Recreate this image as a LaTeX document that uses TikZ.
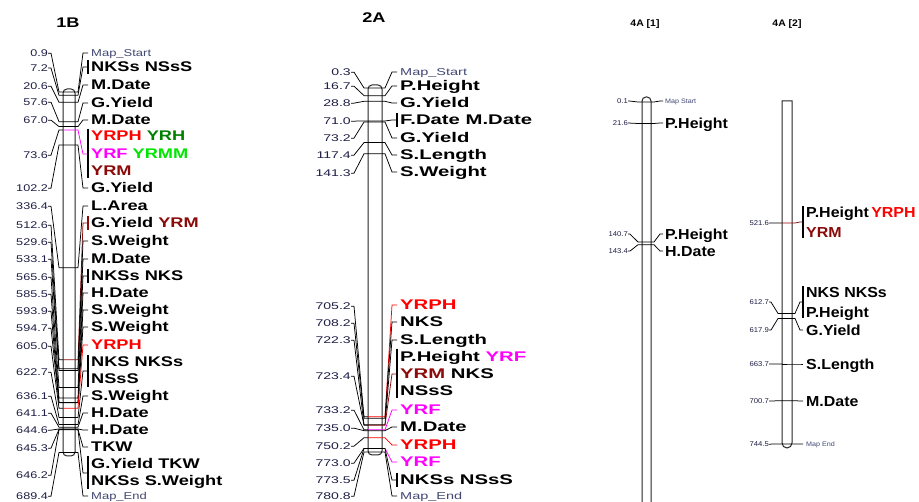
\documentclass[tikz,border=0pt]{standalone}
\usepackage{fontspec}
\setmainfont{Liberation Sans}
\newfontfamily\fA[FakeStretch=1.3]{Liberation Sans}
\newfontfamily\fB[FakeStretch=1.45]{Liberation Sans}
\newfontfamily\fC[FakeStretch=1.1]{Liberation Sans}
\usetikzlibrary{calc}
\definecolor{cyrph}{RGB}{255,0,0}
\definecolor{cyrf}{RGB}{255,0,255}
\definecolor{cyrm}{RGB}{139,10,10}
\definecolor{cyrh}{RGB}{0,128,0}
\definecolor{cyrmm}{RGB}{0,230,0}
\definecolor{numcol}{RGB}{30,30,70}
\definecolor{mapcol}{RGB}{65,72,115}
\newcommand\cR[1]{\textcolor{cyrph}{#1}}
\newcommand\cF[1]{\textcolor{cyrf}{#1}}
\newcommand\cM[1]{\textcolor{cyrm}{#1}}
\newcommand\cH[1]{\textcolor{cyrh}{#1}}
\newcommand\cMM[1]{\textcolor{cyrmm}{#1}}
\tikzset{
  conn/.style={line width=0.75pt},
  bar/.style={draw=black!85, line width=1pt, fill=white},
  brk/.style={line width=1.2pt},
  labA/.style={font=\fA\bfseries\fontsize{14}{14}\selectfont, inner sep=0pt, anchor=base west, yshift=-5pt},
  mapA/.style={font=\fA\fontsize{10}{10}\selectfont, text=mapcol, inner sep=0pt, anchor=base west, yshift=-3.6pt},
  numA/.style={font=\fA\fontsize{9.7}{10}\selectfont, text=numcol, inner sep=0pt, anchor=base east, yshift=-3.5pt},
  labB/.style={font=\fB\bfseries\fontsize{14}{14}\selectfont, inner sep=0pt, anchor=base west, yshift=-5pt},
  mapB/.style={font=\fB\fontsize{10}{10}\selectfont, text=mapcol, inner sep=0pt, anchor=base west, yshift=-3.6pt},
  numB/.style={font=\fB\fontsize{9.7}{10}\selectfont, text=numcol, inner sep=0pt, anchor=base east, yshift=-3.5pt},
  labC/.style={font=\fC\bfseries\fontsize{14.5}{14.5}\selectfont, inner sep=0pt, anchor=base west, yshift=-5.2pt},
  mapC/.style={font=\fC\fontsize{6.5}{6.5}\selectfont, text=mapcol, inner sep=0pt, anchor=base west, yshift=-2.3pt},
  numC/.style={font=\fC\fontsize{7}{7}\selectfont, text=numcol, inner sep=0pt, anchor=base east, yshift=-2.5pt},
  ttl/.style={font=\fA\bfseries\fontsize{14}{14}\selectfont, inner sep=0pt},
  ttlC/.style={font=\fC\bfseries\fontsize{9.5}{9.5}\selectfont, inner sep=0pt},
}
\begin{document}
\begin{tikzpicture}[x=1pt,y=-1pt]
\useasboundingbox[fill=white] (0,0) rectangle (919,502);
% titles
\node[ttl] (t1) at (68,23) {1B};
\node[ttl] (t2) at (374,18) {2A};
\node[ttlC] (t3) at (645,24) {4A [1]};
\node[ttlC] (t4) at (787,24) {4A [2]};

% ================= 1B =================
\draw[bar, rounded corners=4pt] (63,89) rectangle (75,456);
\foreach \cm/\ly [count=\i] in {0.9/53, 7.2/68, 20.6/86, 57.6/102, 67.0/120, 73.6/155, 102.2/188, 336.4/206, 512.6/225, 529.6/242, 533.1/259, 565.6/277, 585.5/294, 593.9/311, 594.7/328, 605.0/346, 622.7/372, 636.1/396, 641.1/413, 644.6/430, 645.3/448, 646.2/475, 689.4/496}{
  \pgfmathsetmacro\by{92+(\cm-0.9)*0.5235}
  \node[numA] (A\i) at (48,\ly) {\cm};
  \coordinate (Ab\i) at (63,\by);
  \draw[conn] (A\i.east) -- ++(3,0) -- ([xshift=-4pt]Ab\i) -- (Ab\i);
}
\foreach \cm/\ry/\col [count=\i] in {0.9/53/black, 7.2/67/black, 20.6/85/black, 57.6/103/black, 67.0/120/black, 73.6/154/cyrf, 102.2/188/black, 336.4/206/black, 512.6/223/cyrm, 529.6/241/black, 533.1/259/black, 565.6/276/black, 585.5/293/black, 593.9/310/black, 594.7/327/black, 605.0/345/cyrph, 622.7/371/black, 636.1/396/black, 641.1/413/black, 644.6/430/black, 645.3/447/black, 646.2/473/black, 689.4/496/black}{
  \pgfmathsetmacro\by{92+(\cm-0.9)*0.5235}
  \coordinate (Bb\i) at (75,\by);
  \coordinate (Be\i) at (88,\ry);
  \draw[conn, draw=\col] (Ab\i) -- (Bb\i) -- ++(3,0) -- ([xshift=-5pt]Be\i) -- (Be\i);
}
\foreach \y/\sty/\txt [count=\i] in {53/mapA/{Map\_Start}, 67/labA/{NKSs NSsS}, 85/labA/{M.Date}, 103/labA/{G.Yield}, 120/labA/{M.Date}, 136/labA/{\cR{YRPH} \cH{YRH}}, 154/labA/{\cF{YRF} \cMM{YRMM}}, 171/labA/{\cM{YRM}}, 188/labA/{G.Yield}, 206/labA/{L.Area}, 223/labA/{G.Yield \cM{YRM}}, 241/labA/{S.Weight}, 259/labA/{M.Date}, 276/labA/{NKSs NKS}, 293/labA/{H.Date}, 310/labA/{S.Weight}, 327/labA/{S.Weight}, 345/labA/{\cR{YRPH}}, 362/labA/{NKS NKSs}, 379/labA/{NSsS}, 396/labA/{S.Weight}, 413/labA/{H.Date}, 430/labA/{H.Date}, 447/labA/{TKW}, 464/labA/{G.Yield TKW}, 481/labA/{NKSs S.Weight}, 496/mapA/{Map\_End}}{
  \node[\sty] (Bt\i) at (91,\y) {\txt};
}
\foreach \a/\b/\col in {60/74/black, 129/178/black, 216/230/cyrm, 269/283/black, 355/387/black, 456/489/black}{
  \draw[brk, draw=\col] (88,\a) -- (88,\b);
}

% ================= 2A =================
\draw[bar, rounded corners=4pt] (368,85) rectangle (382,455);
\foreach \cm/\ly [count=\i] in {0.3/72, 16.7/86, 28.8/103, 71.0/121, 73.2/138, 117.4/155, 141.3/173, 705.2/306, 708.2/323, 722.3/340, 723.4/376, 733.2/410, 735.0/428, 750.2/446, 773.0/463, 773.5/480, 780.8/496}{
  \pgfmathsetmacro\by{88+(\cm-0.3)*0.4664}
  \node[numB] (E\i) at (351,\ly) {\cm};
  \coordinate (Eb\i) at (368,\by);
  \draw[conn] (E\i.east) -- ++(3,0) -- ([xshift=-4pt]Eb\i) -- (Eb\i);
}
\foreach \cm/\ry/\col [count=\i] in {0.3/72/black, 16.7/86/black, 28.8/103/black, 71.0/120/black, 73.2/138/black, 117.4/155/black, 141.3/172/black, 705.2/305/cyrph, 708.2/322/black, 722.3/340/black, 723.4/374/cyrm, 733.2/410/cyrf, 735.0/427/black, 750.2/445/cyrph, 773.0/462/cyrf, 773.5/480/black, 780.8/496/black}{
  \pgfmathsetmacro\by{88+(\cm-0.3)*0.4664}
  \coordinate (Fb\i) at (382,\by);
  \coordinate (Fe\i) at (397,\ry);
  \draw[conn, draw=\col] (Eb\i) -- (Fb\i) -- ++(3,0) -- ([xshift=-5pt]Fe\i) -- (Fe\i);
}
\foreach \y/\sty/\txt [count=\i] in {72/mapB/{Map\_Start}, 86/labB/{P.Height}, 103/labB/{G.Yield}, 120/labB/{F.Date M.Date}, 138/labB/{G.Yield}, 155/labB/{S.Length}, 172/labB/{S.Weight}, 305/labB/{\cR{YRPH}}, 322/labB/{NKS}, 340/labB/{S.Length}, 357/labB/{P.Height \cF{YRF}}, 374/labB/{\cM{YRM} NKS}, 391/labB/{NSsS}, 410/labB/{\cF{YRF}}, 427/labB/{M.Date}, 445/labB/{\cR{YRPH}}, 462/labB/{\cF{YRF}}, 480/labB/{NKSs NSsS}, 496/mapB/{Map\_End}}{
  \node[\sty] (Ft\i) at (400,\y) {\txt};
}
\foreach \a/\b in {113/127, 349/398, 473/487}{
  \draw[brk] (397,\a) -- (397,\b);
}

% ================= 4A [1] =================
\draw[bar, rounded corners=4pt] (642,503) -- (642,97) -- (651,97) -- (651,503);
\foreach \cm/\ly/\by [count=\i] in {0.1/101/102, 21.6/123/123.5, 140.7/234/242, 143.4/251/244.7}{
  \node[numC] (G\i) at (628,\ly) {\cm};
  \coordinate (Gb\i) at (642,\by);
  \draw[conn] (G\i.east) -- ++(2,0) -- ([xshift=-4pt]Gb\i) -- (Gb\i);
}
\foreach \by/\ry/\sty/\txt [count=\i] in {102/101/mapC/{Map Start}, 123.5/123/labC/{P.Height}, 242/234/labC/{P.Height}, 244.7/251/labC/{H.Date}}{
  \coordinate (Hb\i) at (651,\by);
  \coordinate (He\i) at (663,\ry);
  \node[\sty] (Ht\i) at (665,\ry) {\txt};
  \draw[conn] (Gb\i) -- (Hb\i) -- ++(3,0) -- ([xshift=-3pt]He\i) -- (He\i);
}

% ================= 4A [2] =================
\draw[bar] (782,101) -- (782,443) arc[start angle=180, end angle=0, radius=5] -- (792,101) -- cycle;
\foreach \cm/\ly/\by [count=\i] in {521.6/223/223, 612.7/302/313.4, 617.9/330/318.5, 663.7/364/364, 700.7/401/400.7, 744.5/444/444.1}{
  \node[numC] (K\i) at (769,\ly) {\cm};
  \coordinate (Kb\i) at (782,\by);
  \draw[conn] (K\i.east) -- ++(2,0) -- ([xshift=-4pt]Kb\i) -- (Kb\i);
}
\foreach \by/\ry/\col [count=\i] in {223/222/cyrm, 313.4/302/black, 318.5/330/black, 364/364/black, 400.7/401/black, 444.1/444/black}{
  \coordinate (Lb\i) at (792,\by);
  \coordinate (Le\i) at (803,\ry);
  \draw[conn, draw=\col] (Kb\i) -- (Lb\i) -- ++(3,0) -- ([xshift=-3pt]Le\i) -- (Le\i);
}
\foreach \y/\sty/\txt [count=\i] in {212/labC/{P.Height\,\cR{YRPH}}, 232/labC/{\cM{YRM}}, 292/labC/{NKS NKSs}, 312/labC/{P.Height}, 330/labC/{G.Yield}, 364/labC/{S.Length}, 401/labC/{M.Date}, 444/mapC/{Map End}}{
  \node[\sty] (Lt\i) at (806,\y) {\txt};
}
\foreach \a/\b in {206/238, 286/318}{
  \draw[brk] (803,\a) -- (803,\b);
}
\end{tikzpicture}
\end{document}
